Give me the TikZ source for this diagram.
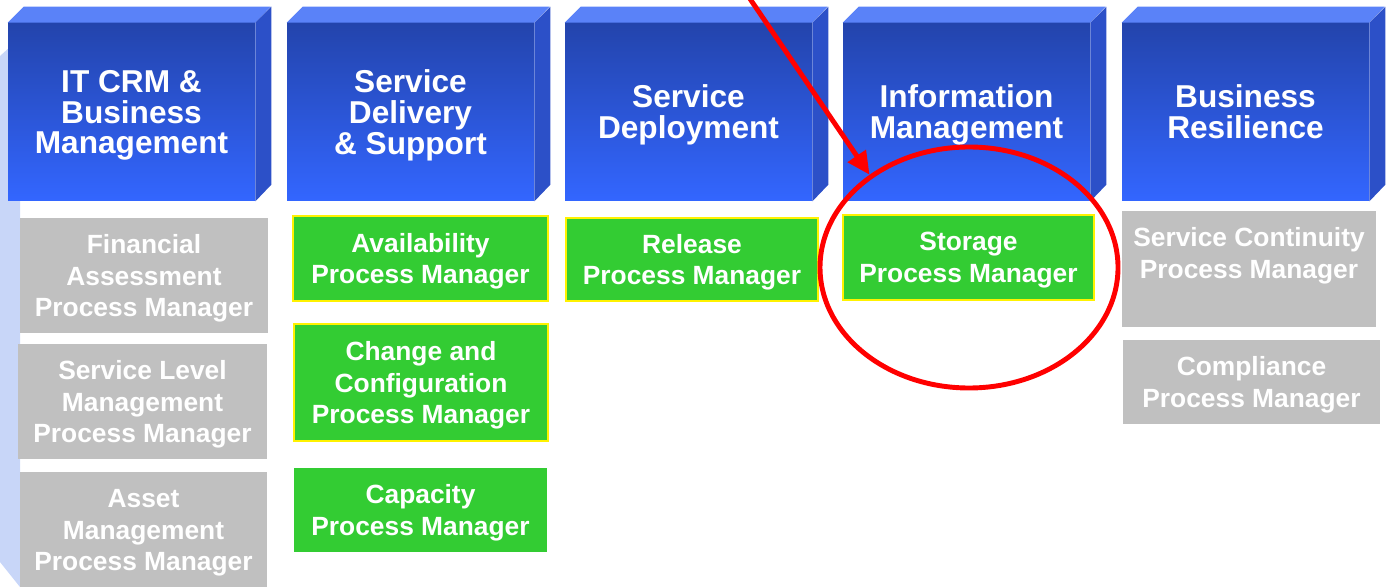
\documentclass[tikz,border=0pt]{standalone}
\usepackage{fontspec}
\setmainfont{Liberation Sans}
\usetikzlibrary{arrows.meta}
\usetikzlibrary{shapes.geometric}

\definecolor{headtop}{RGB}{35,68,172}
\definecolor{headbot}{RGB}{51,102,255}
\definecolor{headlid}{RGB}{90,130,248}
\definecolor{headside}{RGB}{44,80,200}
\definecolor{boxgray}{RGB}{192,192,192}
\definecolor{boxgreen}{RGB}{51,204,51}
\definecolor{stripblue}{RGB}{200,214,248}

\newcommand{\pxu}{0.02cm}

\begin{document}
\begin{tikzpicture}[x=0.02cm,y=-0.02cm,
    head/.style={minimum width=247*\pxu,minimum height=178*\pxu,inner sep=0pt,
        top color=headtop,bottom color=headbot,text=white,align=center,text depth=0pt,
        font=\fontsize{18}{17.6}\selectfont\bfseries},
    lid/.style={fill=headlid},
    flank/.style={fill=headside},
    graybox/.style={fill=boxgray,text=white,align=center,inner sep=0pt,text depth=-1.4pt,
        font=\fontsize{15}{18}\selectfont\bfseries},
    greenbox/.style={graybox,fill=boxgreen},
    rimmed/.style={draw=yellow,line width=0.6pt},
    ring/.style={ellipse,draw=red,line width=2.8pt,inner sep=0pt,
        minimum width=298*\pxu,minimum height=241*\pxu},
    pointer/.style={red,line width=2.8pt,-{Triangle[length=13pt,width=12pt]}}]

    % fix the page size
    \useasboundingbox (0,0) rectangle (1388,587);

    % dotted side strip on the left
    \fill[stripblue] (0,56) -- (20,38) -- (20,587) -- (0,562) -- cycle;

    % header blocks with lid and flank
    \foreach \i/\cx/\txt in {1/131.5/{IT CRM \&\\Business\\Management},
                             2/410.5/{Service\\Delivery\\\& Support},
                             3/688.5/{Service\\Deployment},
                             4/966.5/{Information\\Management},
                             5/1245.5/{Business\\Resilience}} {
        \node[head] (h\i) at (\cx,112) {\txt};
        \fill[lid] (h\i.north west) -- ++(16,-16) -- ++(247,0) -- (h\i.north east) -- cycle;
        \fill[flank] (h\i.north east) -- ++(16,-16) -- ++(0,178) -- (h\i.south east) -- cycle;
    }

    % first column
    \node[graybox,minimum width=248*\pxu,minimum height=115*\pxu] (fin) at (144,275.5)
        {Financial\\Assessment\\Process Manager};
    \node[graybox,minimum width=249*\pxu,minimum height=115*\pxu] (slm) at (142.5,401.5)
        {Service Level\\Management\\Process Manager};
    \node[graybox,minimum width=247*\pxu,minimum height=116*\pxu] (asset) at (143.5,530)
        {Asset\\Management\\Process Manager};

    % second column
    \node[greenbox,rimmed,minimum width=255*\pxu,minimum height=85*\pxu] (avail) at (420.5,258.5)
        {Availability\\Process Manager};
    \node[greenbox,rimmed,minimum width=254*\pxu,minimum height=117*\pxu] (change) at (421,382.5)
        {Change and\\Configuration\\Process Manager};
    \node[greenbox,minimum width=253*\pxu,minimum height=84*\pxu] (capa) at (420.5,510)
        {Capacity\\Process Manager};

    % third and fourth column
    \node[greenbox,rimmed,minimum width=252*\pxu,minimum height=83*\pxu] (rel) at (692,259.5)
        {Release\\Process Manager};
    \node[greenbox,rimmed,minimum width=251*\pxu,minimum height=85*\pxu] (stor) at (968.5,257.5)
        {Storage\\Process Manager};

    % fifth column
    \node[graybox,minimum width=254*\pxu,minimum height=116*\pxu] (cont) at (1249,269)
        {Service Continuity\\Process Manager\\\strut};
    \node[graybox,minimum width=257*\pxu,minimum height=84*\pxu] (compl) at (1251.5,382)
        {Compliance\\Process Manager};

    % red mark
    \node[ring] (ring) at (969,267.5) {};
    \coordinate (tail) at (744,-10);
    \draw[pointer] (tail) -- (ring.137);

\end{tikzpicture}
\end{document}
